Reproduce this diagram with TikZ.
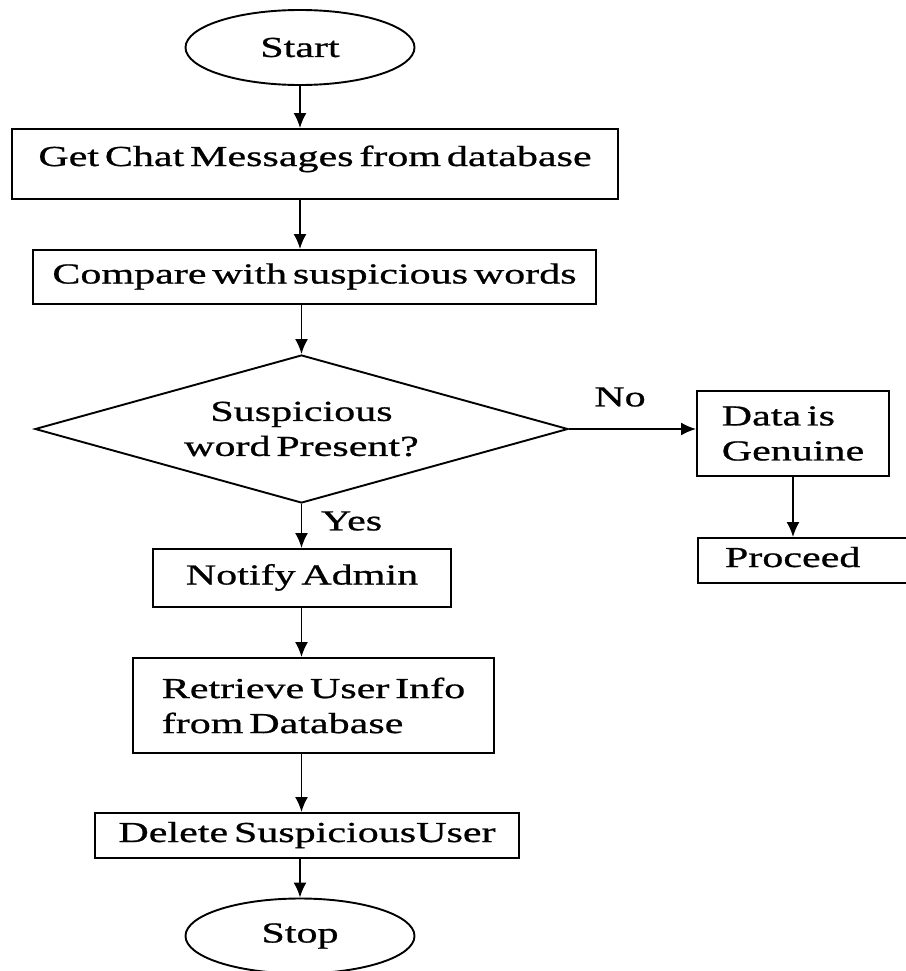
\documentclass[tikz,border=0pt]{standalone}
\usepackage{fontspec}
\setmainfont{Liberation Serif}[FakeStretch=1.45,FakeBold=0.8,WordSpace=0.55]
\usetikzlibrary{shapes.geometric,arrows.meta}

\begin{document}
\begin{tikzpicture}[x=1pt,y=-1pt,line width=1.9pt]
  \tikzstyle{every node}=[font=\fontsize{29}{35}\selectfont,inner sep=0pt]
  \tikzstyle{box}=[draw,rectangle]
  \tikzstyle{oneline}=[text height=20pt,text depth=7pt]
  \tikzstyle{term}=[draw,ellipse,minimum width=229pt,minimum height=75pt]
  \tikzstyle{flow}=[-{Latex[length=15pt,width=13pt]}]
  \useasboundingbox (0,0) rectangle (905,971);
  \fill[white] (0,0) rectangle (905,971);

  \node[term] (start) at (300,47.5) {Start};
  \node[box,oneline,text depth=16pt,minimum width=606pt,minimum height=70pt] (getmsg) at (315,164) {Get Chat Messages from database};
  \node[box,oneline,minimum width=563pt,minimum height=54pt] (compare) at (314.5,277) {Compare with suspicious words};
  \node[draw,diamond,aspect=3.6,minimum width=533pt,minimum height=148pt,align=center] (decide) at (301.5,429) {Suspicious\\word Present?};
  \node[box,align=left,minimum width=192pt,minimum height=85pt] (genuine) at (793,433.5) {Data is\\Genuine};
  \node[box,oneline,anchor=west,inner xsep=27pt,text width=161pt,align=left,minimum height=45pt] (proceed) at (697,560.5) {Proceed};
  \node[box,oneline,minimum width=298pt,minimum height=58pt] (notify) at (302,578) {Notify Admin};
  \node[box,align=left,minimum width=361pt,minimum height=95pt] (retrieve) at (313.5,705.5) {Retrieve User Info\\from Database};
  \node[box,oneline,minimum width=424pt,minimum height=45pt] (delete) at (307,835.5) {Delete SuspiciousUser};
  \node[term] (stop) at (300,936) {Stop};
  \node[anchor=west] (yes) at (320,521) {Yes};
  \node (no) at (620,397) {No};

  \draw[flow] (start.south) -- (start.south |- getmsg.north);
  \draw[flow] (getmsg.south -| start.south) -- (compare.north -| start.south);
  \draw[flow] (compare.south -| decide.north) -- (decide.north);
  \draw[flow] (decide.east) -- (decide.east -| genuine.west);
  \draw[flow] (genuine.south) -- (genuine.south |- proceed.north);
  \draw[flow] (decide.south) -- (decide.south |- notify.north);
  \draw[flow] (notify.south -| decide.south) -- (retrieve.north -| decide.south);
  \draw[flow] (retrieve.south -| decide.south) -- (delete.north -| decide.south);
  \draw[flow] (delete.south -| stop.north) -- (stop.north);
\end{tikzpicture}
\end{document}
